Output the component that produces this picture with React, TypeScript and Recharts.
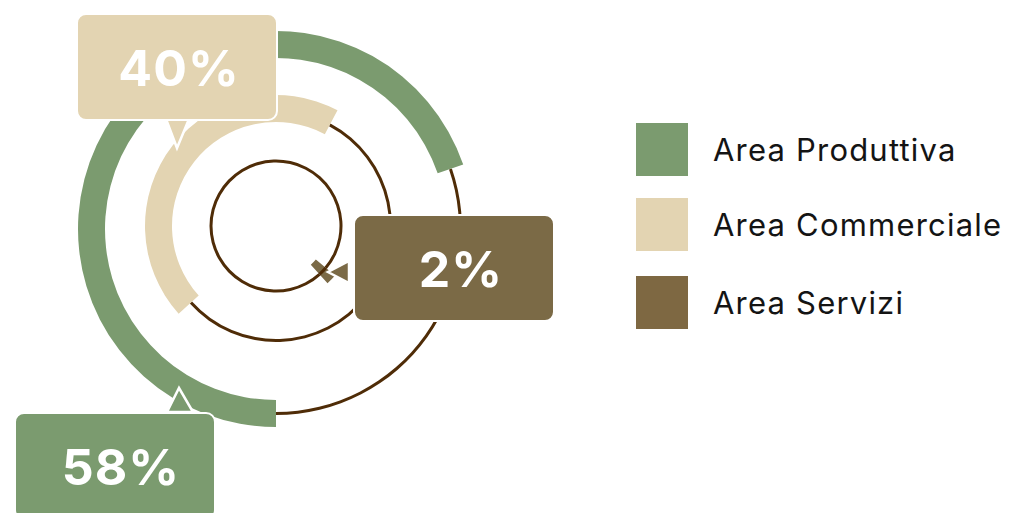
import { PieChart, Pie, Cell } from "recharts";

const categorie = ["Area Produttiva", "Area Commerciale", "Area Servizi"];
const percentuali = [58, 40, 2];
// ampiezza degli archi in gradi
const archi = [251, 160, 8];
const colori = ["#7b9b6f", "#e3d4b2", "#7b6a46"];
const LINEA = "#4f2c07";

const anelli = [
  { cy: 229, inner: 171, outer: 198, lineR: 184.5, start: -90, trackFull: false },
  { cy: 226, inner: 104, outer: 131, lineR: 114.5, start: -138, trackFull: false },
  { cy: 226, inner: 52, outer: 77, lineR: 65, start: -40, trackFull: true },
];

// box delle etichette (posizioni) + freccia
const callout = [
  { left: 14, top: 412, padL: 12, tri: "167,412 193,412 179,388" },
  { left: 76, top: 13, padL: 4, tri: "166,119 189,119 177,148" },
  { left: 353, top: 214, padL: 14, tri: "349,261 349,283 328,272" },
];

const dati = (i: number) => [
  { name: categorie[i], value: archi[i] },
  { name: "resto", value: 360 - archi[i] },
];

function Anello({ i, track }: { i: number; track: boolean }) {
  const a = anelli[i];
  if (track) {
    return (
      <Pie
        data={dati(i)} dataKey="value" cx={276} cy={a.cy}
        innerRadius={a.lineR - 1.5} outerRadius={a.lineR + 1.5}
        startAngle={a.start} endAngle={a.start - 360}
        stroke="none" label={false} labelLine={false} isAnimationActive={false}
      >
        <Cell fill={a.trackFull ? LINEA : "transparent"} />
        <Cell fill={LINEA} />
      </Pie>
    );
  }
  return (
    <Pie
      data={dati(i)} dataKey="value" cx={276} cy={a.cy}
      innerRadius={a.inner} outerRadius={a.outer}
      startAngle={a.start} endAngle={a.start - 360}
      stroke="none" label={false} labelLine={false} isAnimationActive={false}
    >
      <Cell fill={colori[i]} />
      <Cell fill="transparent" />
    </Pie>
  );
}

export default function App() {
  return (
    <div style={{ position: "absolute", left: 0, top: 0, width: 1011, height: 513, overflow: "hidden", background: "#fff" }}>
      <PieChart width={1011} height={513} margin={{ top: 0, right: 0, bottom: 0, left: 0 }}>
        {Anello({ i: 0, track: true })}
        {Anello({ i: 0, track: false })}
        {Anello({ i: 1, track: true })}
        {Anello({ i: 1, track: false })}
        {Anello({ i: 2, track: false })}
        {Anello({ i: 2, track: true })}
      </PieChart>

      {/* frecce dei box */}
      <svg width={1011} height={513} style={{ position: "absolute", left: 0, top: 0 }}>
        {callout.map((c, i) => (
          <polygon key={i} points={c.tri} fill={colori[i]} stroke="#fff" strokeWidth={2.5} strokeLinejoin="miter" />
        ))}
      </svg>

      {callout.map((c, i) => (
        <div key={categorie[i]} style={{
          position: "absolute", left: c.left, top: c.top, width: 202, height: 108,
          boxSizing: "border-box", border: "2px solid #fff", borderRadius: 10,
          background: colori[i], display: "flex", alignItems: "center", justifyContent: "center",
          paddingLeft: c.padL, paddingTop: 2,
          fontFamily: "Inter, sans-serif", fontWeight: 700, fontSize: 50, letterSpacing: 1,
          color: "#fff",
        }}>
          {percentuali[i]}%
        </div>
      ))}

      {/* legenda */}
      <div style={{ position: "absolute", left: 636, top: 123 }}>
        {categorie.map((c, i) => (
          <div key={c} style={{ display: "flex", alignItems: "center", height: 53, marginBottom: i === 0 ? 22 : 25 }}>
            <div style={{ width: 52, height: 53, background: i === 2 ? "#7e6842" : colori[i] }} />
            <span style={{ marginLeft: 25, fontFamily: "Inter, sans-serif", fontSize: 31, letterSpacing: 1.2, color: "#141414" }}>{c}</span>
          </div>
        ))}
      </div>
    </div>
  );
}
